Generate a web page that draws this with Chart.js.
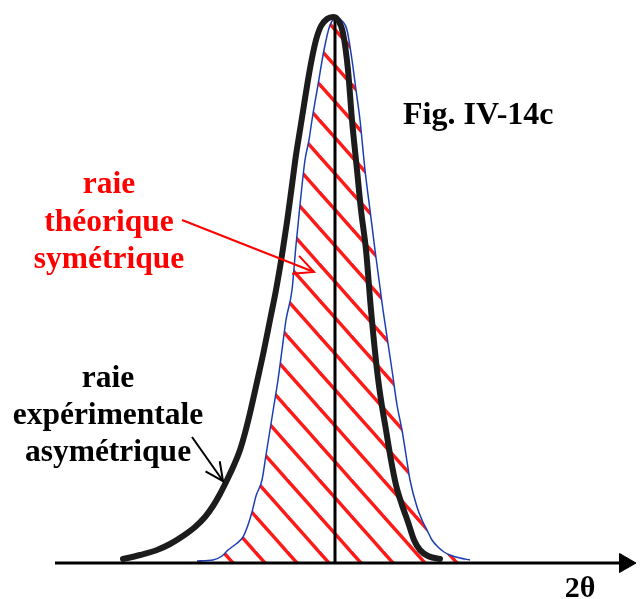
<!DOCTYPE html>
<html>
<head>
<meta charset="utf-8">
<script src="https://cdn.jsdelivr.net/npm/chart.js@4/dist/chart.umd.min.js"></script>
<style>
  html, body { margin: 0; padding: 0; background: #ffffff; }
  #wrap { position: relative; width: 643px; height: 599px; }
</style>
</head>
<body>
<div id="wrap"><canvas id="c"></canvas></div>
<script>
// 2θ positions (arbitrary units) and intensities (arbitrary units)
const expX = [123,140,157,170,183,195,205,213,220,227,234,240,245,250,257,264,270,276,282,287,292,296,300,304,308,312,316,321,327,333,338,343,348,352,357,361,366,371,377,381,386,391,396,402,408,414,420,428,440];
const expY = [4,8,13,19,27,36,46,57,69,83,98,113,130,150,181,213,243,273,308,341,378,408,433,458,483,505,523,537,544,546,543,530,493,443,393,353,313,253,193,163,133,103,78,58,41,23,13,7,4];

const theoX = [197,213,222,228,236,243,248,252,256,262,266,270,274,278,282,286,292,296,300,305,309,312,318,324,330,337,343,347,352,356,360,365,370,375,383,392,397,402,406,410,417,422,427,432,438,444,450,460,470];
const theoY = [2,3,7,13,19,26,38,51,67,83,108,133,158,183,213,243,273,318,358,403,423,443,478,513,538,545,541,533,503,473,443,393,353,313,253,193,158,133,108,83,56,43,33,23,16,11,8,5,3];

const peakPos = [335];          // 2θ of the theoretical peak (vertical line)
const peakTop = [548];
const axisRange = [55, 625];    // extent of the 2θ axis

const labels = {
  fig: "Fig. IV-14c",
  theo: ["raie", "théorique", "symétrique"],
  exp: ["raie", "expérimentale", "asymétrique"],
  axis: "2θ"
};

// diagonal red hatch pattern
function makeHatch() {
  const w = 32, h = 36, c = 20.6;
  const pc = document.createElement('canvas');
  pc.width = w; pc.height = h;
  const g = pc.getContext('2d');
  g.strokeStyle = '#ff1a1a';
  g.lineWidth = 3.4;
  g.lineCap = 'butt';
  for (const o of [-2 * w, -w, 0, w, 2 * w]) {
    g.beginPath();
    g.moveTo(c + o - w * 0.2, -h * 0.2);
    g.lineTo(c + o + w * 1.2, h * 1.2);
    g.stroke();
  }
  return g.createPattern(pc, 'repeat');
}

const pts = (xs, ys) => xs.map((x, i) => ({ x, y: ys[i] }));

const textPlugin = {
  id: 'texts',
  afterDatasetsDraw(chart) {
    const ctx = chart.ctx;
    ctx.save();
    ctx.textBaseline = 'alphabetic';
    // figure label
    ctx.font = 'bold 32px "Liberation Serif", "Times New Roman", serif';
    ctx.fillStyle = '#000';
    ctx.textAlign = 'left';
    ctx.fillText(labels.fig, 403, 124);
    ctx.font = 'bold 31.5px "Liberation Serif", "Times New Roman", serif';
    // theoretical label
    ctx.fillStyle = '#ff0000';
    ctx.textAlign = 'center';
    const tb = [193, 231, 268];
    labels.theo.forEach((t, i) => ctx.fillText(t, 109, tb[i]));
    // experimental label
    ctx.fillStyle = '#000';
    const eb = [387, 424, 461];
    labels.exp.forEach((t, i) => ctx.fillText(t, 108, eb[i]));
    // axis label
    ctx.font = 'bold 30px "Liberation Serif", "Times New Roman", serif';
    ctx.fillText(labels.axis, 580, 597);

    function arrow(x1, y1, x2, y2, color, lw, head) {
      ctx.strokeStyle = color; ctx.lineWidth = lw;
      ctx.beginPath(); ctx.moveTo(x1, y1); ctx.lineTo(x2, y2); ctx.stroke();
      const a = Math.atan2(y2 - y1, x2 - x1);
      ctx.beginPath();
      ctx.moveTo(x2 - head * Math.cos(a - 0.45), y2 - head * Math.sin(a - 0.45));
      ctx.lineTo(x2, y2);
      ctx.lineTo(x2 - head * Math.cos(a + 0.45), y2 - head * Math.sin(a + 0.45));
      ctx.stroke();
    }
    arrow(182, 220, 314, 272, '#ff0000', 2, 22);
    arrow(192, 437, 223, 481, '#000', 2, 20);
    ctx.restore();
  }
};

new Chart(document.getElementById('c'), {
  type: 'scatter',
  data: {
    datasets: [
      {
        label: 'raie expérimentale asymétrique',
        data: pts(expX, expY),
        showLine: true,
        borderColor: '#1c1c1c',
        borderWidth: 6,
        pointRadius: 0,
        cubicInterpolationMode: 'monotone',
        borderCapStyle: 'round',
        borderJoinStyle: 'round',
        fill: false,
        order: 1
      },
      {
        label: 'axe',
        data: [{ x: axisRange[0], y: 0 }, { x: axisRange[1], y: 0 }],
        showLine: true,
        borderColor: '#000',
        borderWidth: 3,
        pointRadius: 0,
        fill: false,
        order: 2
      },
      {
        label: 'flèche',
        data: [{ x: axisRange[1], y: 0 }],
        showLine: false,
        pointStyle: 'triangle',
        rotation: 90,
        pointRadius: 11,
        backgroundColor: '#000',
        borderColor: '#000',
        borderWidth: 1,
        order: 2
      },
      {
        label: 'centre',
        data: [{ x: peakPos[0], y: 0 }, { x: peakPos[0], y: peakTop[0] }],
        showLine: true,
        borderColor: '#000',
        borderWidth: 3,
        pointRadius: 0,
        fill: false,
        order: 3
      },
      {
        label: 'raie théorique symétrique',
        data: pts(theoX, theoY),
        showLine: true,
        borderColor: '#1a3fb5',
        borderWidth: 1.5,
        pointRadius: 0,
        cubicInterpolationMode: 'monotone',
        fill: 'origin',
        backgroundColor: makeHatch(),
        order: 4
      }
    ]
  },
  options: {
    responsive: true,
    maintainAspectRatio: false,
    animation: false,
    layout: { padding: 0, autoPadding: false },
    plugins: { legend: { display: false }, tooltip: { enabled: false } },
    scales: {
      x: { type: 'linear', min: 0, max: 643, display: false },
      y: { type: 'linear', min: -36, max: 563, display: false }
    }
  },
  plugins: [textPlugin]
});
</script>
</body>
</html>
